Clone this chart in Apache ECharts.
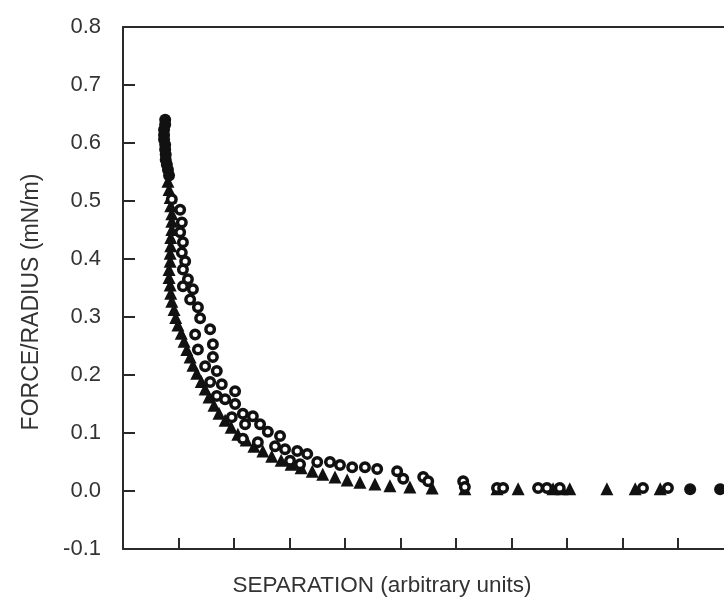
<!DOCTYPE html>
<html>
<head>
<meta charset="utf-8">
<script src="https://cdn.jsdelivr.net/npm/echarts@6/dist/echarts.min.js"></script>
<style>html,body{margin:0;padding:0;background:#fff}#c{width:724px;height:600px}</style>
</head>
<body>
<div id="c"></div>
<script>
// Data (x in arbitrary separation units, y in mN/m)
const filledCirclesX = [0.76,0.76,0.74,0.74,0.74,0.76,0.76,0.77,0.77,0.79,0.81,0.83,10.22,10.76];
const filledCirclesY = [0.640,0.632,0.623,0.614,0.606,0.597,0.589,0.580,0.571,0.563,0.554,0.544,0.003,0.003];

const openCirclesX = [0.88,1.03,1.06,1.03,1.08,1.06,1.12,1.08,1.17,1.08,1.26,1.21,1.35,1.39,1.57,1.30,1.62,1.35,1.62,1.48,1.69,1.57,1.78,2.02,1.69,1.84,2.02,2.16,2.34,1.96,2.20,2.47,2.61,2.83,2.16,2.43,2.74,2.92,3.14,3.32,3.01,3.19,3.50,3.73,3.91,4.13,4.36,4.58,4.94,5.05,5.41,5.50,6.13,6.16,6.74,6.85,7.48,7.64,7.87,9.37,9.82];
const openCirclesY = [0.503,0.485,0.463,0.446,0.429,0.411,0.396,0.382,0.365,0.353,0.348,0.330,0.317,0.298,0.279,0.270,0.253,0.244,0.231,0.215,0.207,0.188,0.184,0.172,0.164,0.158,0.150,0.133,0.129,0.127,0.115,0.115,0.102,0.095,0.090,0.084,0.077,0.072,0.069,0.064,0.052,0.046,0.050,0.050,0.045,0.041,0.041,0.038,0.034,0.021,0.024,0.017,0.017,0.007,0.005,0.005,0.005,0.005,0.005,0.005,0.005];

const trianglesX = [0.81,0.83,0.85,0.86,0.88,0.88,0.88,0.86,0.86,0.85,0.85,0.83,0.83,0.85,0.86,0.88,0.92,0.95,0.99,1.05,1.10,1.15,1.21,1.26,1.33,1.41,1.48,1.55,1.64,1.73,1.84,1.95,2.07,2.22,2.36,2.52,2.68,2.85,3.03,3.21,3.41,3.60,3.82,4.04,4.27,4.54,4.81,5.17,5.57,6.16,6.74,7.12,7.75,7.91,8.05,8.72,9.23,9.68];
const trianglesY = [0.534,0.520,0.506,0.492,0.478,0.465,0.451,0.437,0.423,0.410,0.396,0.382,0.368,0.355,0.341,0.327,0.313,0.299,0.286,0.272,0.258,0.244,0.231,0.217,0.203,0.189,0.176,0.162,0.148,0.134,0.122,0.110,0.098,0.088,0.077,0.069,0.060,0.053,0.046,0.040,0.034,0.029,0.024,0.019,0.015,0.012,0.009,0.007,0.005,0.004,0.004,0.004,0.004,0.004,0.004,0.004,0.004,0.004];

const xTicks = [1,2,3,4,5,6,7,8,9,10];
const yTicks = [-0.1,0.0,0.1,0.2,0.3,0.4,0.5,0.6,0.7,0.8];
const xTitle = 'SEPARATION (arbitrary units)';
const yTitle = 'FORCE/RADIUS (mN/m)';

function pairs(xs, ys){ return xs.map((x,i)=>[x, ys[i]]); }

const axisColor = '#2a2a2a';
const textColor = '#333333';
const font = 'Liberation Sans, Arial, sans-serif';

const chart = echarts.init(document.getElementById('c'), null, {renderer:'canvas'});
chart.setOption({
  animation: false,
  backgroundColor: '#fff',
  grid: {left: 123, top: 27, right: 0, bottom: 51, containLabel: false},
  title: {
    text: xTitle, left: 377, top: 569, textAlign: 'center',
    textStyle: {fontFamily: font, fontSize: 22.5, fontWeight: 'normal', color: textColor}
  },
  xAxis: [{
    type: 'value', min: 0, max: 10.83, interval: 1,
    axisLine: {show: true, onZero: false, lineStyle: {color: axisColor, width: 2}},
    axisTick: {show: true, inside: true, length: 11, customValues: xTicks,
      lineStyle: {color: axisColor, width: 2}},
    axisLabel: {show: false},
    splitLine: {show: false}
  },{
    type: 'value', position: 'top', min: 0, max: 10.83,
    axisLine: {show: true, onZero: false, lineStyle: {color: axisColor, width: 2}},
    axisTick: {show: false}, axisLabel: {show: false}, splitLine: {show: false}
  }],
  yAxis: {
    type: 'value', min: yTicks[0], max: yTicks[yTicks.length-1], interval: 0.1,
    name: yTitle, nameLocation: 'middle', nameGap: 80,
    nameTextStyle: {fontFamily: font, fontSize: 23, color: textColor, padding: [0, 28, 0, 0]},
    axisLine: {show: true, onZero: false, lineStyle: {color: axisColor, width: 2}},
    axisTick: {show: true, inside: true, length: 12, lineStyle: {color: axisColor, width: 2}},
    axisLabel: {margin: 22, fontFamily: font, fontSize: 22, color: textColor,
      formatter: v => v.toFixed(1)},
    splitLine: {show: false}
  },
  series: [
    {type: 'scatter', name: 'triangles', data: pairs(trianglesX, trianglesY),
      symbol: 'triangle', symbolSize: 13,
      itemStyle: {color: '#111', opacity: 1}},
    {type: 'scatter', name: 'open', data: pairs(openCirclesX, openCirclesY),
      symbol: 'circle', symbolSize: 8.5,
      itemStyle: {color: '#fff', borderColor: '#111', borderWidth: 3.5, opacity: 1}},
    {type: 'scatter', name: 'filled', data: pairs(filledCirclesX, filledCirclesY),
      symbol: 'circle', symbolSize: 12,
      itemStyle: {color: '#111', opacity: 1}}
  ]
});
</script>
</body>
</html>
